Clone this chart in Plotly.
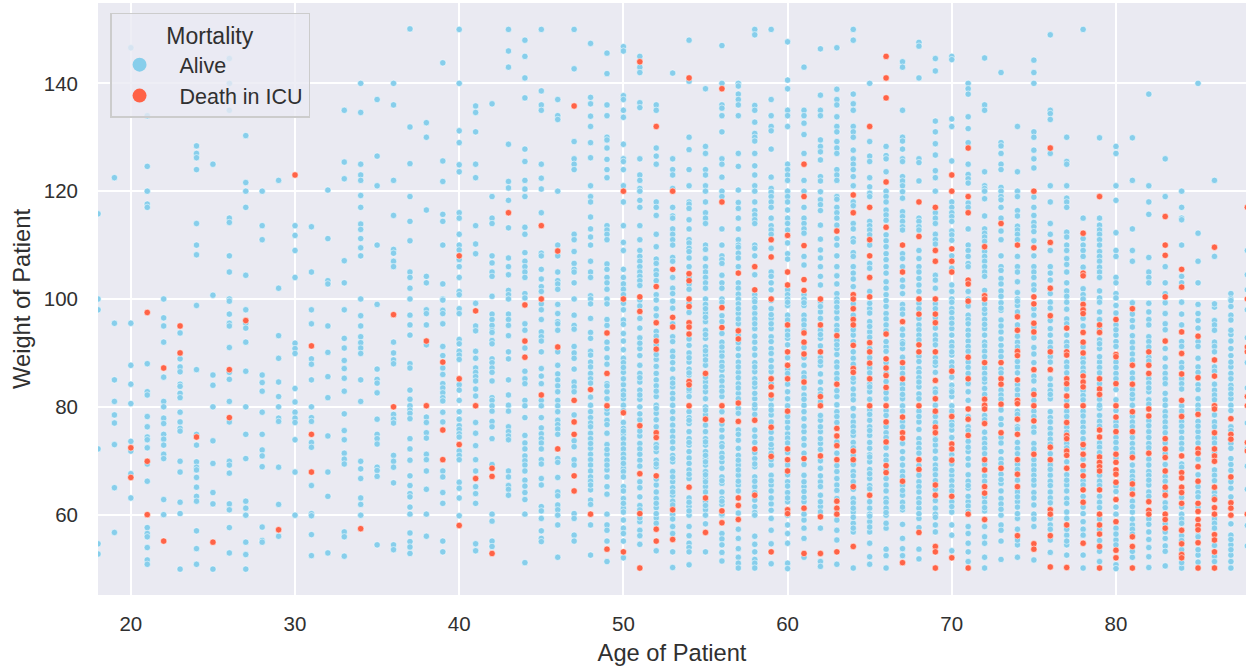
import plotly.graph_objects as go

ages = list(range(18, 89))
x_ticks = [20, 30, 40, 50, 60, 70, 80]
y_ticks = [60, 80, 100, 120, 140]

alive_18=[115.8,100,98,72.2,54.6,52.7]
alive_19=[122.5,95.5,85,81,78.5,77,73,65,56.7]
alive_20=[146.6,95.5,87.7,84.2,80.6,73.6,71.8,67.6,63.1]
alive_21=[134,124.6,120,117.6,117,88,82.8,82.2,78.2,76.3,74.4,73.9,72.4,69.4,66.2,57.6,56.5,55.9,53.9,51.6,50.8]
alive_22=[100,96.5,95,92,85.5,81,80,77.9,76.9,74.9,74,72.9,71.2,70.4,62.8,60]
alive_23=[93.7,88.9,87.4,86.5,84.2,83.8,82.5,81.7,79,77.2,76,75.5,69.9,67.9,62.3,60.2,49.9]
alive_24=[128.4,127,126.2,124,114,110,108.2,98.8,86.9,74.9,72.9,69.8,68.8,68.3,66.9,65.1,63.4,62.5,57,53.7,50.8]
alive_25=[125,100.7,85.9,84,80,73.7,69.5,64.1,62,49.9]
alive_26=[144.6,140,135,115,114.2,108,105,100,99.6,97.2,95.5,95,91,86.4,85.1,81,77.2,69.9,69.2,67.7,62,60.9,57.6,52.9]
alive_27=[130.3,121.6,120,117,104.4,98,95.5,94.6,92,86.6,80,74.9,70.4,62.5,61.2,59.9,54.9,52.6,49.9]
alive_28=[120,113.6,111,85.9,84.5,82.9,79,74.9,72,70.9,68.9,57.7,55.2,54.9]
alive_29=[122,102,93.2,89,84.6,81.9,80,77.9,77.3,68.8,61.9,56]
alive_30=[113.6,111.8,109,104,91.8,90.8,89.9,83.4,80.9,79,77.9,77.1,73.9,67.9,59.9]
alive_31=[113.4,105,98,95.4,88.9,87.9,85,80,78,77.3,73.4,72.5,65.4,60.2,59.8,56.3,52.4]
alive_32=[120.2,111.2,103.4,102.8,95,90.1,85.6,81.7,74.6,67.9,63.4,52.9]
alive_33=[135,125.4,122.3,107.1,103,98,92.7,90.9,88.6,87.1,85.3,82.9,78.7,75.6,73.9,71.4,70.3,69.4,56.8,55.9,52.3]
alive_34=[140,134.6,125,123,122,119.2,117,113.9,112.9,111.2,109.5,108,100,96.9,95,93,91.9,90.9,89.9,85,81,69.9,68.5,66.7,63.1,61.9,59.9]
alive_35=[137,126.5,121,110,99,87,85.1,84.4,82.6,77.7,74.9,74.1,73.1,68.8,68.2,67.1,54.4]
alive_36=[140,136,122,115.5,109.2,108.5,107,106,92,90,88.7,88,78.6,77.7,77,71,69.9,68.8,65.9,54.4,53.5]
alive_37=[150.1,131.9,125.1,119,114.4,110.8,105,104,102,100,97,95.2,93.3,88,87.2,83.1,81.4,80.2,79.4,78.8,77.8,74.1,72.2,70.1,67.2,65.4,63.9,63.3,61.4,60.1,56.6,55,54,52.8]
alive_38=[132.7,130,116.5,104.2,103,98,97.3,95.2,91.5,78.1,77.1,75.2,74.2,71.2,70.2,68.1,64.7,60.1,56]
alive_39=[143.8,125.6,121.8,115.7,114.4,110,102.8,100,99.8,97.9,97.3,95.4,91.2,89.5,87.2,86,84.3,83.5,82.6,81.7,81.1,79,77.2,68.1,67,64.1,62.1,55.1,53.1]
alive_40=[150,140,131.2,129,124.9,123.6,116,115,112,110,109.1,107.3,106,104,101.4,100.8,98.2,97.3,92.5,91.7,90.3,89.6,88.8,84.1,83.1,81.2,79.1,77.7,76.5,75.8,75,74.4,71.8,71,70.2,66,64.9,63.1,59.8]
alive_41=[135.8,134.6,131,125,122.5,113.6,110.2,108.4,99.2,95,94.1,90.3,89,87.2,86.4,85.6,84.8,83.3,82,77.1,75.1,72.8,70.2,68.1,65.2,63.9,62.1,54.6,53.3]
alive_42=[136.2,119,115,114,108,106.7,105,104.2,100.5,97.2,96.2,95.1,94.1,93.8,92.3,91.7,88.9,88.2,87.2,86.4,84.8,81.7,81.2,80.2,79.2,77.3,76.3,74.1,69.3,60.1,58.8,55.1,54.1]
alive_43=[150,146,143,128.7,121.8,120.6,118.3,113.2,107.6,106,104.5,101.6,100.8,100,97.2,96.2,95.1,93.2,90.2,88.9,85,82.2,80.3,79.2,76.3,75.4,74.6,73.9,68.1,67,65.4,64.7,63.6]
alive_44=[148,145,141,137.3,127.8,125.5,122,120.4,119,113.3,112,108.6,107,106,105,104,101,100.2,95.4,94.2,90.9,86.6,85.2,84.3,81.2,80.2,78,74.7,73.3,72.2,70.9,70,69.2,68.1,66.4,65.3,64.1,62.8,60.1,51.1]
alive_45=[150,138.6,136,135,125,122.4,120.4,116,108.5,108,105.5,103.7,102.3,101.4,99.1,98,96.2,93.9,93,92.2,90.2,87.1,85.7,84.3,81.2,80.2,78,76.1,75,74.1,73.3,72.2,70.2,69.4,66.7,65.5,61.5,60.7,59.3,57,55.6,55]
alive_46=[137,134,133.3,120,110,108,105,103.4,102.8,101.8,99,97.3,95.8,95.4,94.2,90.2,87.7,86.1,85,83.9,82.8,81.2,80.2,79.1,77.5,76.7,75.9,74.9,70.4,69.7,66.9,64.2,63.5,61.8,60.9,59.9,58.1,52.1]
alive_47=[150,142.7,129.2,126,125,124,112,111,108.8,106.6,105.5,105,103,100,97,95.1,94.4,91.2,90,89,87,84.6,83.7,82.8,78.5,73.7,72.6,70.2,69.2,60.2,59.3,56.2,55.1]
alive_48=[147.4,137.4,136.2,133.9,132,129,126.2,121,119,118,115.2,113,111.5,110,107,105,104,100.6,100,96.4,93.8,92.7,90.3,89.6,88.3,87.4,86.2,85.2,81.8,80.3,79.1,78,75.1,74.1,72.3,71.2,70.2,69.2,68.1,67,66.2,64.6,62.7,61.9,58.1,52.5,99.1,84.4,77,76.3,73.2,65.5]
alive_49=[145.6,141.8,136,134,130,129.5,128,125.9,124,122.5,113.6,112.8,112,111,106.5,105.5,104,103,101.8,100,99.1,96.2,95.1,90.8,89.1,87.9,84.3,82.8,81.5,78.8,77.5,76.7,75.1,73,71.2,70.1,68.3,65.2,63.8,60.1,58.1,57.1,55.1,51.3,92,83.9,79.6,72.1,69.2,67]
alive_50=[146.8,146,137.7,137,135,133.7,128.7,126,125.5,124,121,118,113.6,110.5,109,105.5,104,102.8,101.8,100.8,98,96.1,95.3,93.6,92.2,89,88.2,86.4,84.1,83,81.5,80.3,77.1,76,75,74.1,73.1,72.2,71.2,68.6,68,65.2,64.4,63,61.2,60.5,59,57.5,56.5,55.1,52,99.2,90.6,87.3,85.2,82.2,79.3,75.5,70.4,69.5,67,62.1]
alive_51=[145,143,142,136.4,135.5,126,123,122,120.5,120,118.3,117,113.6,111,109,107.9,107,106,105,104.2,103.4,102.5,99.8,96.4,94.6,92.8,90.8,87.7,86.2,84.6,83.1,81.4,77.6,74.6,73.2,72.2,70.1,63.3,61.7,58.7,57.1,54.5,98.7,91.8,89.5,85.4,82.2,80,78.7,75.5,71.2,69,66.1,65,60.9,59.4,56.1]
alive_52=[136,135,128,126.5,125,118,117,115.5,112,109.7,107.4,106.6,105.3,104.5,103.4,100.8,99.8,98.2,94,88.8,86.2,85,83.9,81.9,80.3,78.8,76.3,73,71.7,70.1,68.9,65.5,64.2,63,61.3,59.4,58.4,53.3,96.9,93.1,91.5,89.7,87.5,82.9,79.7,77.6,72.4,69.4,66.6,62.1,60.2]
alive_53=[141.9,126,124,123,120.5,117,115.4,115,113,112,111,110,107.7,107,104,102,101,98.3,93,90.3,89.3,87,85.2,83.7,82.5,81.5,80.3,79.1,77.8,76.6,75.5,74.4,73.5,72.3,71,69.8,68,66.1,65,63.6,62.5,57.8,56.5,53.1,50.2,99.6,95.4,92.1,88.2,84.4,70.4,67,64.2,61.8,60.1,59.2]
alive_54=[140.4,148,130,127.7,124,121,118,117.6,116.8,114.7,113,111,110.4,109.4,108.8,107.6,106,104,102.8,101.8,91.4,90,88.3,87,85.9,82.9,81.9,79.1,78,76.9,75.4,74.1,72.9,71.7,70.5,69.5,68.3,66.7,63.1,61.5,59.9,57.8,56.1,54.7,53.9,53.1,50.7,99.2,97.5,92.6,89.1,86.3,83.3,77.5,73.4,67.5,62.3,60.7]
alive_55=[139,128.3,127,124,123,121,120,118,116,115,114,110,109.2,107.5,106,105,104,103,102,100,99,97.4,95.8,94.2,92.7,91.1,89.6,87.7,84.6,82.8,81.5,80,78.5,75.4,74.1,72.9,71.7,70.4,69.2,68,66.8,65.2,62.4,60.9,58.3,53.1,98.2,96.6,93.4,90.4,88.7,85.5,83.7,79.4,76.6,73.5,71,69.8,67.4,66.1,64.2,61.7,59.9]
alive_56=[147,140,136,135.4,134,131,126,125,122.6,120,119,113,110,108,107.3,106.6,104.4,103,102,100,93.6,92,90.2,88.3,86.8,85.6,83.7,81.9,75.7,74.4,73.2,71.4,69.8,68.6,67,65.8,64.2,63,61.9,59.9,56.5,55.5,54.4,53,51.4,99.4,96.9,95.8,91.1,89.4,87.5,84.8,82.9,79.1,76.8,72.6,70.6,66.3,62.5,60.1]
alive_57=[140,139.5,138,137,136,134,127,124.6,120.2,117.9,116.8,115,113,111,110,109.6,108.5,107.6,106,103,102,100.9,100,99.1,97.3,95.4,90.8,88.3,86.4,84.3,82.5,75.7,73.8,72.3,71,69.2,67.3,65.5,57.3,55.6,53.7,52.1,51,50.1,98.2,96.3,93.3,91.9,89.5,87.4,85.4,83.5,81.5,79.7,78.8,74.9,70.1,68.3,66.2,64.4,60.3]
alive_58=[150,149,135.9,135,132.8,130.7,130,129.3,127,124.7,123,121,120,118,116.4,115.6,114.7,114,110,109.4,108,104.5,100.8,100,99.5,97.3,94.5,92,89.6,86.5,85.2,83.7,81.5,79.7,75.7,70.4,68.9,67,65.2,62.7,61.5,56,54.5,53.1,51.7,51,50.1,98.4,96.3,95.4,93.1,90.8,88.2,87.4,84.4,82.5,80.4,78.6,74.5,73.4,71.5,69.4,66.2,64.1,60.4,59.9]
alive_59=[150,137,134,132,131.2,127.8,122.6,120.5,119.8,119,118,117,115,113.6,112.8,112,109.4,105,104.2,103,101.7,99.7,98.2,96.4,94.5,93,90.8,88.6,86.5,80.3,78.5,74.1,72.3,69.2,67.3,65.5,62,59.3,57.1,54.6,50.9,97.1,95.4,92.1,89.9,87.4,84.3,81.5,79.4,77.2,75.3,73,71.4,70.2,66.3,64.4,63.1,60.8]
alive_60=[147.7,140.6,139,135,134,132,125,124,123,122,120,119,118,116.5,115,114,112.8,110.4,108.4,107.4,101.7,100.8,100,98.8,97,92.7,82.8,77.2,75,66.1,64.1,62.4,58.1,56.5,54.7,51,50,99.4,96.1,94.1,93.3,91.5,89.1,87,86.2,84.2,81.5,80.2,78.2,76.1,74.2,73.3,71.5,69.2,67.4,65.3,63.1,59.9]
alive_61=[143,135,134,132.6,130.5,127,122,120,117,115,114,113,112.2,107.9,106.3,100.8,100,98.8,97,87.7,82.2,80.3,77.8,75.4,72.9,67.3,65.2,62.4,59,57.5,55.6,52.1,99.3,96.1,95.2,94.1,91,89.1,86.3,85.5,83.5,81.4,79.1,76.4,74.1,71.4,69.3,66.1,64.3,63.2,60.1]
alive_62=[146.4,137.8,135,134,129.5,128.3,127.3,125.8,122.7,121.9,119.9,118.4,117.5,116.4,113.7,111.1,109.1,107.6,106,104.2,102.6,99.5,97.6,92.7,87.7,84.6,77.5,75.4,73.2,68.6,66.1,63.6,61.5,57.5,51.3,50.4,98.6,96.4,94.2,93.4,91.3,89.1,88.4,86.1,83.2,82.4,80.9,78.4,76.3,74.1,72.1,70,67.2,65.2,62.4,60.5]
alive_63=[146.6,138.9,137,136,133.8,132,131,129.2,128,127,124,123,122,119,118.5,117,116,115,113.7,111.2,110,108,106,104.3,102.8,101,100,99.4,97.6,95.1,90.8,88.3,86.2,81.9,79.1,68,65.5,59,57.1,55.3,50.8,98.5,96.4,94.2,92.3,91.5,89.7,87.4,85.2,83,80.4,78.2,77.1,73.5,71.4,69.1,66.7,64.5,63,60.4]
alive_64=[150,148,138,136.2,135,132,131,130,127.6,126,125,124,122.7,121,118,117.3,114,113,111.2,110.6,108.6,107.9,106,104.8,103.7,102.3,93.3,89,84.6,82.2,79.7,77.2,74.7,68,63,60.5,58.4,56.8,50.1,99.1,97,94.3,92.1,90.2,87.9,85.3,83.3,81.3,78.3,76.3,75.4,73.4,72.4,71,69.3,67.2,66.1,64.7,62.2,61.2,59.5,57.5]
alive_65=[140,129.2,126.5,125.5,122.5,120.8,119.6,119,114.4,113.6,112.8,111.9,110,106.6,105.7,101.4,98.2,95.8,93.9,82.8,77.5,74.7,72.3,69.8,66.7,61.2,58.7,56.8,54.7,52.2,50.8,99.2,97.4,94.9,92.9,90.8,89.1,87.2,86.3,84.2,83.7,81.4,79.4,78.6,76.3,75.6,73.4,71.1,70.7,68.4,67.6,65.4,64.8,62.4,60.1,59.7,57.7]
alive_66=[128.3,126.6,126,123.6,120,119,118,116.5,115.6,114.6,111.9,110.8,109.7,108.4,107.3,106,104.8,103.2,102,100.8,99.7,97.3,91.1,81.5,71,65.5,63,59.9,57.5,53.6,52.4,50.1,98.6,96.3,95.2,94.1,92.1,90.3,88.2,86.2,84.7,82.6,79.3,78.4,76.3,75.2,74.3,72.4,70.1,68.3,66.7,64.4,62.3,61.2,60.4,58.4]
alive_67=[144,143,135,130,129.3,127.8,126,125.5,122.7,121.9,121,119.9,118.7,116.2,115.3,114.4,113.4,112.8,108.4,107.5,106,103.5,102.3,101,99,93.3,90.8,81.5,71.7,68,63.6,60.9,58.2,55.6,53.7,52.4,98.1,97.2,94.4,92.1,91.7,89.2,87.2,86.2,84.2,83.3,82.3,80.2,79.2,77.3,76.3,73.2,70.4,69.2,67.1,65.4,64.5,62.3,61.4]
alive_68=[147.6,146.9,141,126,125.3,121.9,115,114.4,113.4,112.8,109,107.5,106,105,103.8,102.6,101.4,95.2,87.1,83.7,77.2,74.1,66.1,63,61.2,59.3,53.6,51.8,99.2,98.2,96.4,94.3,93.3,92.4,89.4,88.4,86.4,85.4,84.6,82.4,81.5,79.2,78.2,75.8,73.2,72.3,71.4,69.1,67.3,65.2,64.2,62.2,60.2,57.6]
alive_69=[144.6,142.3,133,131,128.8,126.7,123.8,122.5,120,116,115,114,112,111,110.2,104.4,103.5,102,93.3,87.7,72.9,70.4,61.2,58.1,56.8,99.1,98.2,96.5,94.6,92.4,91.5,89.1,88.3,86.4,83.3,82.7,80.3,79,78.2,77.1,74.1,73.9,71.8,69.2,68.4,67.4,66.3,64.7,62.6,60.1,59.5]
alive_70=[145,144.4,133.4,132,125.6,118,117,116,115.3,114.4,112.6,111.9,110.9,108,105.7,102.6,101.4,100,98.2,96.4,94.5,92,89.6,84,81.9,75.7,67.3,60.5,58.1,56.2,53.3,99.4,97.5,95.5,93.3,91.2,90.2,88.3,87.4,85.5,83.1,82.8,80.2,79.2,77.2,76.6,74.3,71.1,70.3,69.4,68.2,66.3,65.3,64.4,62.4,61.5]
alive_71=[140,139,138,133.8,131.6,129,125,123.1,122.3,121.5,117.8,117,113,110,109,107.9,106.6,106,101.4,100,97,94.2,92.2,82.8,71.7,69.2,64.9,62.4,57.8,56.5,54.7,53.1,51.3,98.7,96.2,95.4,93.3,91.2,90.3,88.3,87.3,86.2,84.3,81.2,78.2,76.3,75.6,73.6,72.5,70.4,67.4,66.2,65.4,63.4,61.6,60.6]
alive_72=[144.7,136,135,123.6,121,120.5,120,118.6,115.4,113,112.2,111.5,110.7,108.8,107.9,107,106,105,104.2,101.6,97.3,94.5,92,84.6,74.1,60.7,57.8,55.9,54.7,52.1,50.1,99.1,98.1,96.2,95.3,93.3,91.3,90.3,89.3,87.2,86.2,85.2,83.4,82.3,78.4,77.6,75.3,73.2,72.3,71.3,69.3,67.2,66.2,63.3,62.3,61.3]
alive_73=[142,129,128.4,127,125,124,120.7,120,119,118.4,117,115,112.6,111,108,106,105.3,103.8,102.8,101.5,100.5,97.9,96.1,93.9,91.4,77.8,71.7,65.8,63,59.9,58.1,57.1,55.1,51.7,99.3,98.3,95,92.6,90.3,89.3,87,86.3,83.1,82.2,81.4,79.4,76.7,74.3,73.3,70.3,69.5,67.5,66.5,64.4,62,61]
alive_74=[132,123.6,120,119,116.4,115.4,113.5,112.8,112,111,107.9,106,105,103.2,101.2,100,98.8,92,87.4,82.2,72.3,62.4,59.3,54.4,52.1,99.6,97.6,95.2,93.1,91.1,88.4,86.3,84.1,83.2,79.2,78.6,76.3,75.9,73.4,71.3,69.3,68.4,66.4,64.2,63.3,61.4,60.2,57.3,55.3]
alive_75=[144.3,142,140,131,130,127.6,126,124.3,118.9,117,115.5,114.2,113.4,112.5,110.8,108,106,105,104,102.6,101.7,89.8,69.2,65.5,61.8,60.1,57.8,51.6,98.2,97,94.8,92.8,91,88.2,85.7,84.8,83.1,81.2,79.2,78.2,76.2,75.3,73.2,72.2,70.2,68.3,67.3,66.4,64.1,63.1,59.2]
alive_76=[149,135,134.4,133.3,127,121,118,114,112,109,106,104.8,103.5,101,94.5,92,84,81.5,79.1,76,67.3,64.2,58.1,53,99.4,98.3,96,93.3,91,89.3,88.3,85.2,83,82.3,78,77.2,75,74,73.1,71.3,69.2,68.4,66.2,65.4,63.1,62.2,59.3,57.3,55.3]
alive_77=[130,125.5,125,121,118.7,118,117,112.4,111.5,110,109,107.5,106.4,105,103,101.5,100.5,99.4,92,65.5,63,60.5,56.2,54.4,52.5,98.1,96.3,95.4,93.3,91.2,88.3,87.4,86.3,83.3,81.2,79.2,78.2,76.2,75.3,73.2,72.4,69.8,67.4,66.4,64.4,62.1,59.3,57.3,55.1]
alive_78=[150,115,111.2,110,109,107.9,105.9,101.9,100.8,77.2,58.7,52.5,50.1,100,96.4,95,91.1,89,88.2,87.2,86.4,83,82.1,81.3,79.2,78.3,76.2,75.3,74.1,72.4,70.3,68.2,66.3,65.5,63.4,61.4,60.2,57.3,56.2]
alive_79=[129.9,115,113.7,112.8,112,111,110,108.8,107.9,107,105.9,105,104,101.5,100.2,99.4,97.6,90.8,88.3,79.7,51.3,96.2,94.4,92.4,91.7,89.3,87.3,86.3,84.3,81.4,80.3,78.4,77.3,76.4,73.3,72.5,71.5,67.3,66.2,65.4,63.4,62.3,61.3,59.2,57.3,55.2,53.2]
alive_80=[128.3,127,121,118.3,112.3,109,107.9,104,103,101,100.2,98.8,93.3,55.3,50.7,50,97.4,95.2,94.3,92.1,91.2,88.3,87.3,86.2,85.2,83.2,81.3,79.3,77.2,76.4,74.3,73.4,72.3,70.5,65.3,64.3,61.4,60.1,57.5,56.4,54.4]
alive_81=[129.9,122,113,109,107,96,92,81.5,68,60.5,58.1,52.1,99.3,97.2,94.8,93.2,90.9,89.8,88.7,86.3,85.3,83.2,82.3,80.3,78.2,77.2,76.3,74.3,73.2,72.2,71.4,69.2,67.1,66.3,64.7,62.5,61.5,59.2,57.3,56.4,53.2]
alive_82=[138,121,118,115.7,107.7,105,104,103,97.6,93,82.8,75.4,68,65.5,56.8,53.9,52.2,50.2,99.2,96.2,95.2,92.1,91.1,89.2,88.5,85.2,84.4,83.5,81.3,80.5,77.4,76.5,74.3,73.2,72.4,70.3,69.2,67.3,66.4,64.2,63.4,59.2,58.2,55.4]
alive_83=[126,119,106,103,101,97.3,89,82.5,79.1,55.6,50.5,99.3,95.4,94.3,90.8,87.4,86.2,85.2,84.3,81.3,80.3,78.2,77.2,76.2,75.2,73.3,71.3,69.3,67.1,66.2,64.4,62.2,61.3,58.3,56.8,54.2,53.2]
alive_84=[120,117,115,114.7,110,104.2,103,99.4,75.4,60.1,50.1,97.2,95.2,92.1,91.2,88.2,87.3,85.2,84.3,83.3,80.2,79.2,77.3,76.4,74.2,73.2,72.2,69.4,68.8,63.2,61.4,59.2,58.4,56.1,55.2,53.5,51.1]
alive_85=[140,112.2,107,103,99,96,89,81.5,75.4,52.5,97.3,94.6,92.1,91.2,87.4,86.4,84.1,83.2,80.3,79.4,77.3,76.4,74.3,73.3,70.3,67.4,65.2,64.1,63.3,61.4,56.1,55.9,53.5,51.2]
alive_86=[122,107.9,98.5,96,92,83.1,77.2,68.3,99.1,95.2,94.2,91.2,90.2,87.4,86.6,84.2,82.2,81.3,78.5,76.3,74.2,73.3,71.4,67.3,66.3,64.1,63.3,59.2,58.4,57.5,54.3,52.3,51.3]
alive_87=[101,100,99.7,97,93.4,90.8,87.4,84,81.5,70.4,64.9,56.2,54.4,52.5,50.1,98.6,96.1,94.2,92.2,89.5,88.3,86.2,85.2,83.3,82.4,80.3,79.3,76.3,75.6,73.2,72.3,69.3,68.2,66.1,63.3,58.3,55.4,53.5,51.3]
alive_88=[109,104.5,101.7,98,92.8,88.2,83.5,77,72.2,69,64.7,58,54.2]

death_20=[72.4,66.9]
death_21=[97.5,69.9,60]
death_22=[87.2,55.1]
death_23=[95,90]
death_24=[74.4]
death_25=[54.9]
death_26=[86.9,78]
death_27=[96]
death_29=[57.2]
death_30=[123]
death_31=[91.3,74.9,67.9]
death_34=[57.4]
death_36=[97.1,80]
death_38=[92.2,80.2]
death_39=[88.3,75.7,70.2]
death_40=[108,85.2,73,58]
death_41=[97.8,80.2,66.7]
death_42=[68.6,67.1,52.8]
death_43=[116]
death_44=[98.9,92.2,89.2]
death_45=[113.6,100,82.2]
death_46=[108.9,91.1,72.2]
death_47=[135.8,81.2,77.2,74.9,67.2,64.4]
death_48=[83.2,60.1]
death_49=[93.7,86.2,80.2,53.6]
death_50=[120,100,78.9,53.1]
death_51=[144,100.4,97.7,76.5,67.6,60.2,50.1]
death_52=[132,102.3,95.6,92.2,90.7,75.2,74.3,67.2,57.3,55.1]
death_53=[120,105.5,96.6,94.8,60.9,55.4]
death_54=[141,104.7,103.4,100,98.6,95.6,94.8,93.5,84.7,84.1,80.2,65.1]
death_55=[86.2,77.7,63.1,56.7]
death_56=[139,118,98.4,94.7,80.2,77.5,60.7,58.5]
death_57=[104.8,94.1,92.6,80.7,77.3,63.1,61.7,59.1]
death_58=[106,101.7,77.5,72.2,63.6]
death_59=[111,107.8,100,85.2,83.7,82.2,76.2,70.8,53.1]
death_60=[111.8,105,102.6,95.2,90.2,87.7,85.2,79.2,72.2,70.2,68.1,60.9,60.2]
death_61=[125,119,109.9,103.6,101.6,93.7,92,89.8,84.6,70.4,61.2,52.8]
death_62=[100,95.2,90.2,81.9,80.2,70.9,59.6,52.8]
death_63=[112.6,93.2,84.2,76,74.6,72.8,70.2,62.5,61.2,60.1,53.1]
death_64=[119.3,116,100.8,100,98.2,96.2,95.2,91.4,87.1,86.4,71.8,70.2,65.2,54.1]
death_65=[132,117,111,108,104,100.4,91.9,90.2,88.1,85.2,80.2,63.6]
death_66=[145,141,137.3,121.7,113.3,93.5,88.9,87.2,85.8,83.6,80.2,77.2,73.5,69.1,67.8]
death_67=[110,105,95.8,88.2,85.2,78.1,75.2,74.2,66.2,51.1]
death_68=[118,111.6,100,97.2,91.5,90.2,80.2,70.2,68.4,56.7]
death_69=[117,109,107,100,97.2,95.6,90.2,84.9,81.5,79.2,76.2,75.2,65.5,63.6,54.1,53.1,50.1]
death_70=[123,120,109.3,107,105,86.6,78.2,73.1,72.2,70.1,63.4,52]
death_71=[128,119,116,103.5,102.8,99.6,89.2,85.2,79.6,77.7,74.7,60.1,50.1]
death_72=[109.7,100.6,100,88.2,81.4,80.3,79.6,76.9,70.2,68.3,65.2,64,59.1]
death_73=[114,88.2,85.2,84.2,80.5,75.2,68.6]
death_74=[110,96.7,94.2,90.3,89.5,85,81.2,80.6,77.7,74.9,70.2,67.5,65.2,56.1]
death_75=[120,109.5,100.4,99.1,95.5,93.9,86.9,82.3,80.2,77.4,71.2,54.6,53.6]
death_76=[128,110.5,102,96.9,90.2,86.9,72.5,70.2,60.9,60.1,56.1,50.3]
death_77=[94.6,90.2,89.6,85.2,84.3,82,80.2,77.1,74.7,74.1,71.8,71,68.6,58.1,50.2]
death_78=[112.2,104.8,104.3,99,98,97.3,93.8,92,90,85.7,84.6,83.7,80.2,73,71.2,69.1,67.2,64.6,62.3,54.7]
death_79=[119,95.2,93.8,85.2,83.3,82.3,75.7,74.4,70.7,69.7,68.9,68.1,64.6,60.1,58.1,56.4,54.1,50.1]
death_80=[96.2,89.7,89.3,84.3,80.2,78.1,75.4,71.2,69.7,68.3,67.5,66,62.8,58.7,53.4,52]
death_81=[98.2,87.7,84.2,79.1,75.4,70.6,65.7,63.8,55.9,54.1,50.1]
death_82=[90.2,87.7,86.2,79.6,78.3,71.4,62.4,60.8,60.1]
death_83=[115.3,110,108.1,100.4,92.2,74.1,72.2,70.6,68.1,65.1,63.6,60.1,59.1,57.5]
death_84=[105.5,102.2,93.9,89.9,86.1,81.2,78.2,70.9,67.8,66.8,65.1,64.1,62.1,57.1,54.6,52.6,52]
death_85=[93.1,85.4,78.6,72.2,71.4,68.9,66.2,62.1,60.6,59.1,58,57.2,54.8,50.1]
death_86=[109.6,88.7,85.7,80.2,79.6,75.2,72.2,70.9,69.9,65.1,62.8,61.3,60.1,56.3,55.3,53.1,50.1]
death_87=[77.8,74.9,74,67,62.2,61.2,59.9]
death_88=[117,100,91.1,90.2,81.9,80.2,73.4,71.8,60.1]

SKY = "#87CEEB"
TOMATO = "#FF6347"
INK = "#303030"
FONT = "Liberation Sans, Arial, sans-serif"


def collect(prefix):
    xs, ys = [], []
    for age in ages:
        for weight in globals().get(f"{prefix}_{age}", []):
            xs.append(age)
            ys.append(weight)
    return xs, ys


alive_x, alive_y = collect("alive")
death_x, death_y = collect("death")
point_line = dict(color="rgba(255,255,255,0.75)", width=0.7)

fig = go.Figure()
fig.add_trace(go.Scatter(x=alive_x, y=alive_y, mode="markers", showlegend=False, hoverinfo="skip",
                         marker=dict(color=SKY, size=6.4, line=point_line)))
fig.add_trace(go.Scatter(x=death_x, y=death_y, mode="markers", showlegend=False, hoverinfo="skip",
                         marker=dict(color=TOMATO, size=6.4, line=point_line)))
fig.add_trace(go.Scatter(x=[None], y=[None], mode="markers", name="\u00a0\u00a0Alive", legendgroup="a",
                         marker=dict(color=SKY, size=14)))
fig.add_trace(go.Scatter(x=[None], y=[None], mode="markers", name="\u00a0\u00a0Death in ICU", legendgroup="b",
                         marker=dict(color=TOMATO, size=14)))

fig.update_layout(
    width=1246, height=668, autosize=False,
    margin=dict(l=98, r=0, t=3, b=73),
    paper_bgcolor="white", plot_bgcolor="#EAEAF2",
    font=dict(family=FONT, color=INK, size=20.5),
    legend=dict(
        x=0.0105, y=0.9835, xanchor="left", yanchor="top",
        bgcolor="rgba(234,234,242,0.8)", bordercolor="#CCCCCC", borderwidth=1.5,
        title=dict(text="Mortality", side="top center", font=dict(size=23)),
        font=dict(size=21.5), itemwidth=46, itemsizing="trace",
        traceorder="grouped", tracegroupgap=0,
    ),
    xaxis=dict(range=[18, 87.92], tickvals=x_ticks, showgrid=True, gridcolor="white", gridwidth=1.6,
               zeroline=False, showline=False, ticks="", ticklabelstandoff=14, tickfont=dict(size=20.5),
               title=dict(text="Age of Patient", font=dict(size=23.7), standoff=10)),
    yaxis=dict(range=[45.1, 154.9], tickvals=y_ticks, showgrid=True, gridcolor="white", gridwidth=1.6,
               zeroline=False, showline=False, ticks="", ticklabelstandoff=19, tickfont=dict(size=20.5),
               title=dict(text="Weight of Patient", font=dict(size=23.7), standoff=6)),
)

fig.write_html("out.html", config=dict(displayModeBar=False), post_script="document.body.style.margin='0';")
